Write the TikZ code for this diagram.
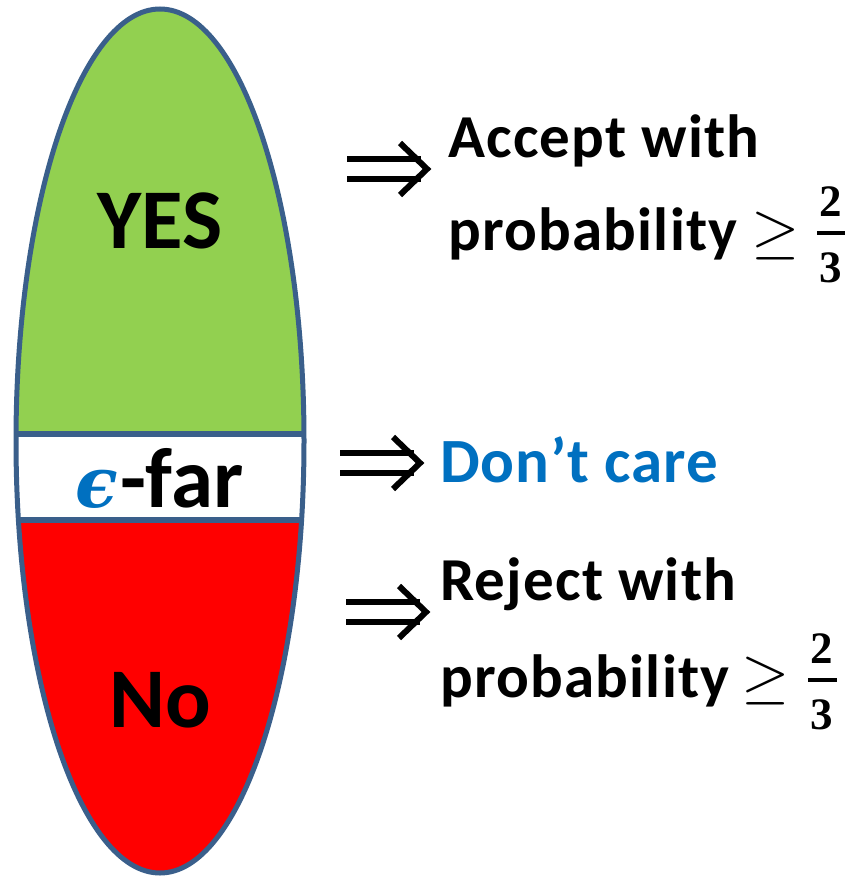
\documentclass[tikz,border=0pt]{standalone}
\usepackage{graphicx}
\usepackage{fontspec}
\setmainfont{Carlito}
\newfontfamily\fracfont{Liberation Serif}
\newfontfamily\epsfont{DejaVu Serif}
\definecolor{edgeblue}{HTML}{3A5F8B}
\definecolor{yesgreen}{HTML}{92D050}
\definecolor{nored}{HTML}{FF0000}
\definecolor{careblue}{HTML}{0070C0}
\begin{document}
\begin{tikzpicture}[x=1pt,y=-1pt]
\tikzset{
  bigtxt/.style={inner sep=0pt, font=\bfseries\fontsize{85}{85}\selectfont},
  sidetxt/.style={inner sep=0pt, anchor=base west, font=\bfseries\fontsize{61}{61}\selectfont\addfontfeatures{LetterSpace=2}},
  digit/.style={inner sep=0pt, anchor=base, font=\fracfont\bfseries\fontsize{45}{45}\selectfont},
  gesym/.style={inner sep=0pt, anchor=south west},
  fracbar/.style={line width=4pt},
  dblarrow/.pic={
    \draw[line width=6.5pt] (-80,-10) -- (-6,-10) (-80,10) -- (-6,10);
    \draw[line width=6pt, miter limit=10] (-27,-26) -- (0,0) -- (-27,26);
  }
}
\useasboundingbox (0,0) rectangle (862,877);
% ellipse with bands
\begin{scope}
  \clip (160,441) ellipse [x radius=144, y radius=432];
  \fill[yesgreen] (0,0) rectangle (862,434);
  \fill[white] (0,434) rectangle (862,520);
  \fill[nored] (0,520) rectangle (862,877);
  \draw[edgeblue, line width=6pt] (0,434) -- (862,434) (0,520) -- (862,520);
\end{scope}
\draw[edgeblue, line width=5pt] (160,441) ellipse [x radius=144, y radius=432];

\node[bigtxt, anchor=base] (yes) at (160,248) {YES};
\node[bigtxt, anchor=base] (no) at (160,727) {No};
\node[bigtxt, anchor=base west] (far) at (120,507) {-far};
\node[inner sep=0pt, anchor=base east, text=careblue, font=\epsfont\bfseries\itshape\fontsize{70}{70}\selectfont] (eps) at (118,507) {ϵ};

% arrows
\pic at (427,169) {dblarrow};
\pic at (420,463) {dblarrow};
\pic at (426,612) {dblarrow};

% accept block
\node[sidetxt] (acc) at (448,158) {Accept with};
\node[sidetxt] (prob1) at (448,250) {probability};
\node[gesym] (ge1) at (751,260) {\scalebox{6.2}{$\geq$}};
\node[digit] (two1) at (831,217) {2};
\draw[fracbar] (817,233) -- (845,233);
\node[digit] (three1) at (831,282) {3};

% don't care
\node[sidetxt, text=careblue, font=\bfseries\fontsize{63}{63}\selectfont\addfontfeatures{LetterSpace=1.5}] (care) at (440,482) {Don’t care};

% reject block
\node[sidetxt] (rej) at (440,600) {Reject with};
\node[sidetxt] (prob2) at (440,697) {probability};
\node[gesym] (ge2) at (741,705) {\scalebox{6.2}{$\geq$}};
\node[digit] (two2) at (822,663) {2};
\draw[fracbar] (808,680) -- (837,680);
\node[digit] (three2) at (822,729) {3};
\end{tikzpicture}
\end{document}
